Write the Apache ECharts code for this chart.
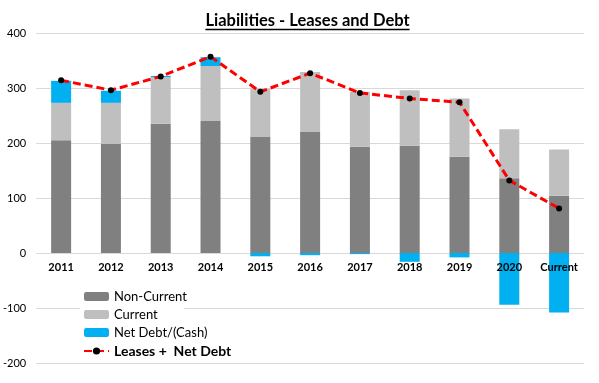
<!DOCTYPE html>
<html>
<head>
<meta charset="utf-8">
<script src="https://cdn.jsdelivr.net/npm/echarts@6/dist/echarts.min.js"></script>
<style>html,body{margin:0;padding:0;background:#fff}#c{width:599px;height:383px}</style>
</head>
<body>
<div id="c"></div>
<script>
var categories = ['2011','2012','2013','2014','2015','2016','2017','2018','2019','2020','Current'];
var nonCurrent = [205, 198, 235, 240, 211, 220, 193, 195, 175, 136, 104];
var current    = [68, 75, 85, 100, 88, 109, 100, 101, 106, 89, 84];
var netDebt    = [40, 22, 2, 16, -6, -4, -2, -16, -8, -94, -108];
var leasesPlusNetDebt = [314, 296, 321, 357, 293, 327, 291, 281, 274, 132, 81];
var yTicks = {min: -200, max: 400, interval: 100};

var FONT = 'Lato';
var TITLE = 'Liabilities - Leases and Debt';
var TITLE_SIZE = 16.5;
var cv = document.createElement('canvas').getContext('2d');
cv.font = 'bold ' + TITLE_SIZE + 'px ' + FONT;
var tw = cv.measureText(TITLE).width;
var W = 599, tx = (W - tw) / 2 + 8;

var chart = echarts.init(document.getElementById('c'));
chart.setOption({
  animation: false,
  backgroundColor: '#fff',
  title: {
    text: TITLE,
    left: tx, top: 12, padding: 0,
    textStyle: {fontFamily: FONT, fontWeight: 'bold', fontSize: TITLE_SIZE, color: '#000'}
  },
  graphic: [
    {type: 'rect', z: 1, shape: {x: 80, y: 287, width: 104, height: 72}, style: {fill: '#fff'}},
    {type: 'line', z: 10, shape: {x1: tx, y1: 29.5, x2: tx + tw, y2: 29.5}, style: {stroke: '#000', lineWidth: 1.3}}
  ],
  legend: {
    orient: 'vertical', left: 83, top: 290, padding: 0,
    itemWidth: 25, itemHeight: 9, itemGap: 5,
    textStyle: {fontFamily: FONT, fontSize: 13, color: '#000'},
    data: [
      {name: 'Non-Current'},
      {name: 'Current'},
      {name: 'Net Debt/(Cash)'},
      {name: 'Leases +  Net Debt', textStyle: {fontWeight: 'bold', fontSize: 14}}
    ]
  },
  grid: {left: 36, right: 15, top: 33, bottom: 20, containLabel: false},
  xAxis: {
    type: 'category', data: categories,
    offset: -110, z: 10,
    axisLine: {show: false, onZero: false},
    axisTick: {show: false},
    axisLabel: {fontFamily: FONT, fontWeight: 'bold', fontSize: 11, color: '#000', margin: 9}
  },
  yAxis: {
    type: 'value', min: yTicks.min, max: yTicks.max, interval: yTicks.interval,
    axisLine: {show: false}, axisTick: {show: false},
    splitLine: {lineStyle: {color: '#d9d9d9', width: 1}},
    axisLabel: {fontFamily: FONT, fontSize: 11, color: '#000', margin: 10}
  },
  series: [
    {name: 'Non-Current', type: 'bar', stack: 'a', data: nonCurrent, barWidth: 20,
     itemStyle: {color: '#808080'}},
    {name: 'Current', type: 'bar', stack: 'a', data: current, barWidth: 20,
     itemStyle: {color: '#bfbfbf'}},
    {name: 'Net Debt/(Cash)', type: 'bar', stack: 'a', data: netDebt, barWidth: 20,
     itemStyle: {color: '#00b0f0'}},
    {name: 'Leases +  Net Debt', type: 'line', data: leasesPlusNetDebt, z: 5,
     symbol: 'circle', symbolSize: 6,
     lineStyle: {color: '#ff0000', width: 3, type: [8, 4]},
     itemStyle: {color: '#000'}}
  ]
});
</script>
</body>
</html>
